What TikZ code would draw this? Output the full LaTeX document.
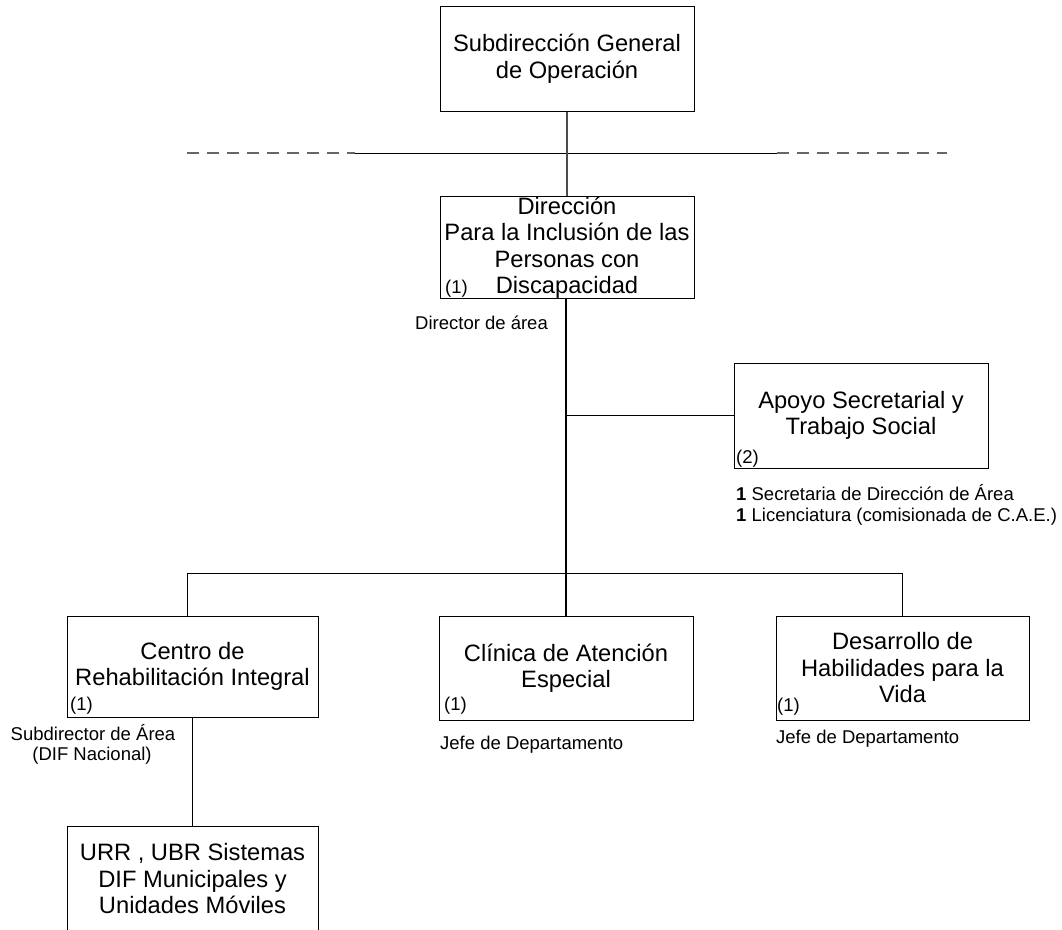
\documentclass[tikz,border=0pt]{standalone}
\usepackage{fontspec}
\setmainfont{Liberation Sans}
\newcommand{\boxfont}{\fontsize{23.7}{26.5}\selectfont}
\newcommand{\notefont}{\fontsize{18.5}{20.5}\selectfont}
\begin{document}
\begin{tikzpicture}[x=1pt,y=-1pt,
  unit/.style={draw, line width=1pt, inner sep=0pt, align=center,
    minimum width=254pt, minimum height=104pt, font=\boxfont},
  note/.style={inner sep=0pt, font=\notefont},
  link/.style={line width=1pt},
  trunk/.style={line width=2pt},
  upper/.style={line width=1.3pt, black!70},
  cut/.style={line width=1.8pt, black!60, dash pattern=on 12pt off 8pt}]
\clip (0,0) rectangle (1062,929);
\fill[white] (0,0) rectangle (1062,929);

% units
\node[unit, minimum height=105pt] (top) at (567,58.5) {Subdirección General\\de Operación};
\node[unit, minimum height=101pt] (dir) at (567,247.5) {Dirección\\Para la Inclusión de las\\Personas con\\Discapacidad};
\node[unit, minimum height=105pt] (apoyo) at (861,415.5) {Apoyo Secretarial y\\Trabajo Social};
\node[unit, minimum width=251pt, minimum height=101pt] (centro) at (192.5,666.5) {Centro de\\Rehabilitación Integral};
\node[unit] (clinica) at (566,668) {Clínica de Atención\\Especial};
\node[unit, minimum width=253pt] (desarrollo) at (902.5,668) {Desarrollo de\\Habilidades para la\\Vida};
\node[unit, minimum width=251pt, minimum height=106pt] (urr) at (192.5,879) {URR , UBR Sistemas\\DIF Municipales y\\Unidades Móviles};

% position counts and titles
\node[note, anchor=base west] (dirn) at (445,293) {(1)};
\node[note, anchor=base west] (dirt) at (415,329) {Director de área};
\node[note, anchor=base west] (apoyon) at (736,463) {(2)};
\node[note, anchor=base west] (apoyot1) at (736,500) {\textbf{1} Secretaria de Dirección de Área};
\node[note, anchor=base west] (apoyot2) at (736,521) {\textbf{1} Licenciatura (comisionada de C.A.E.)};
\node[note, anchor=base west] (centron) at (70,710) {(1)};
\node[note, anchor=base] (centrot1) at (93,740) {Subdirector de Área};
\node[note, anchor=base] (centrot2) at (92,760) {(DIF Nacional)};
\node[note, anchor=base west] (clinican) at (444,710) {(1)};
\node[note, anchor=base west] (clinicat) at (440,749) {Jefe de Departamento};
\node[note, anchor=base west] (desarrollon) at (777,711) {(1)};
\node[note, anchor=base west] (desarrollot) at (776,743) {Jefe de Departamento};

% level line under the upper unit
\coordinate (lvlA) at (187,153);
\coordinate (lvlB) at (355,153);
\coordinate (lvlC) at (777,153);
\coordinate (lvlD) at (947,153);
\draw[cut] (lvlA) -- (lvlB);
\draw[link] (lvlB) -- (lvlC);
\draw[cut] (lvlC) -- (lvlD);

% connectors
\draw[upper] (top.south) -- (dir.north);
\draw[trunk] (dir.south -| clinica.north) -- (clinica.north);
\draw[link] (apoyo.west -| clinica.north) -- (apoyo.west);
\coordinate (busL) at (187,573);
\coordinate (busR) at (desarrollo.north |- busL);
\draw[link] (busL |- centro.north) -- (busL) -- (busR) -- (desarrollo.north);
\draw[link] (centro.south) -- (urr.north);
\end{tikzpicture}
\end{document}
